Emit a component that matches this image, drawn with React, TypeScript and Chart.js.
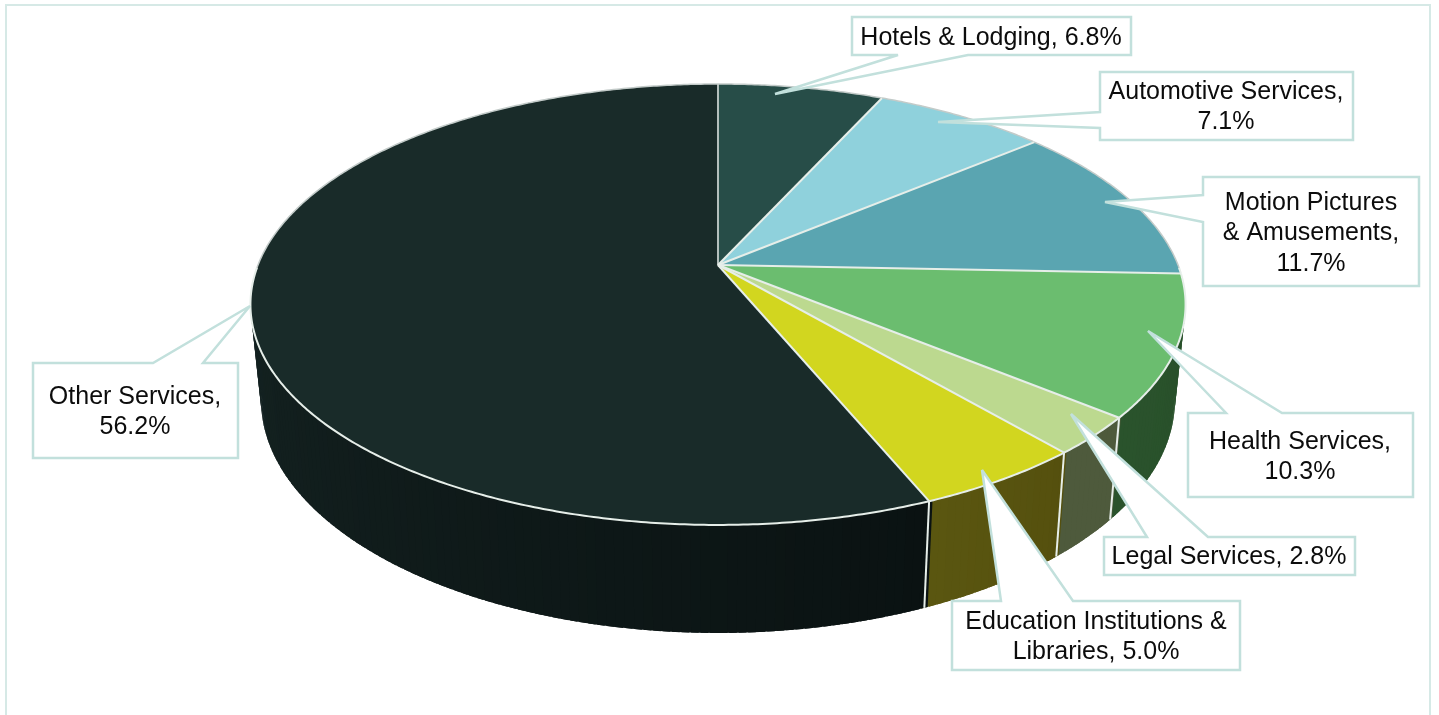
import React, { useEffect, useRef } from "react";
import { Chart, registerables } from "chart.js";

Chart.register(...registerables);

const categories = ["Hotels & Lodging", "Automotive Services", "Motion Pictures & Amusements", "Health Services", "Legal Services", "Education Institutions & Libraries", "Other Services"];
const shares = [6.8, 7.1, 11.7, 10.3, 2.8, 5.0, 56.2];
const calloutText = [
  ["Hotels & Lodging, 6.8%"],
  ["Automotive Services,", "7.1%"],
  ["Motion Pictures", "& Amusements,", "11.7%"],
  ["Health Services,", "10.3%"],
  ["Legal Services, 2.8%"],
  ["Education Institutions &", "Libraries, 5.0%"],
  ["Other Services,", "56.2%"],
];
const topColors = ["#274d48", "#8fd1dc", "#5aa5b1", "#6bbd6f", "#bcd98f", "#d2d61f", "#192b29"];
const wallFrom = ["#274d48", "#8fd1dc", "#5aa5b1", "#284f2a", "#4e5a3c", "#55500e", "#0a1212"];
const wallTo = ["#274d48", "#8fd1dc", "#5aa5b1", "#2a532c", "#4e5a3c", "#5a5610", "#1e3230"];

const LINE = "#c2e0dc";
const RIM = "#e6eee9";

// Callout outlines: box with a wedge reaching to the tip, [x,y] vertices clockwise
const calloutShapes = [
  [[852, 17], [1131, 17], [1131, 55], [968, 55], [775, 94], [898, 55], [852, 55]],
  [[1100, 72], [1353, 72], [1353, 140], [1100, 140], [1100, 128], [938, 122], [1100, 112]],
  [[1203, 177], [1419, 177], [1419, 286], [1203, 286], [1203, 222], [1105, 202], [1203, 195]],
  [[1188, 413], [1226, 413], [1148, 331], [1282, 413], [1413, 413], [1413, 497], [1188, 497]],
  [[1104, 537], [1147, 537], [1071, 414], [1208, 537], [1355, 537], [1355, 575], [1104, 575]],
  [[952, 601], [1001, 601], [982, 470], [1073, 601], [1240, 601], [1240, 670], [952, 670]],
  [[33, 363], [153, 363], [250, 306], [203, 363], [238, 363], [238, 458], [33, 458]],
];
const calloutAnchors = [[991, 38], [1226, 92], [1311, 203], [1300, 442], [1229, 557], [1096, 622], [135, 397]];
const lineHeight = 30.5;

// Perspective of the disc: top plane and lower plane
const TOP = { cx: 718, y0: 265, A: 460, B: 213.4, p: 0.179 };
const BOT = { cx: 718, y0: 358.3, A: 449.6, B: 225.5, p: 0.179 };

type Plane = typeof TOP;
const project = (pl: Plane, theta: number) => {
  const X = Math.sin(theta);
  const Y = -Math.cos(theta);
  const d = 1 - pl.p * Y;
  return [pl.cx + (pl.A * X) / d, pl.y0 + (pl.B * Y) / d];
};

const hex = (c: string) => [1, 3, 5].map((i) => parseInt(c.slice(i, i + 2), 16));
const mix = (a: string, b: string, t: number) => {
  const A = hex(a), B = hex(b);
  return `rgb(${A.map((v, i) => Math.round(v + (B[i] - v) * t)).join(",")})`;
};

const STEP = Math.PI / 180;

const pie3d = {
  id: "pie3d",
  beforeDatasetsDraw(chart: any) {
    const ctx: CanvasRenderingContext2D = chart.ctx;
    const arcs = chart.getDatasetMeta(0).data;
    const slices = arcs.map((a: any, i: number) => ({
      t0: a.startAngle + Math.PI / 2,
      t1: a.endAngle + Math.PI / 2,
      fill: a.options.backgroundColor,
      i,
    }));

    ctx.save();
    // chart frame
    ctx.strokeStyle = "#d6e9e6";
    ctx.lineWidth = 2;
    ctx.strokeRect(6, 5, 1424, 730);

    // side walls
    const strips: any[] = [];
    const pad = STEP * 0.4;
    for (const s of slices) {
      const n = Math.max(1, Math.ceil((s.t1 - s.t0) / STEP));
      for (let k = 0; k < n; k++) {
        const a = s.t0 + ((s.t1 - s.t0) * k) / n;
        const b = s.t0 + ((s.t1 - s.t0) * (k + 1)) / n;
        const mid = (a + b) / 2;
        if (-Math.cos(mid) < 0.05) continue;
        strips.push({ a: a - pad, b: b + pad, depth: -Math.cos(mid), color: mix(wallFrom[s.i], wallTo[s.i], (k + 0.5) / n) });
      }
    }
    strips.sort((p, q) => p.depth - q.depth);
    for (const st of strips) {
      const p = [project(TOP, st.a), project(TOP, st.b), project(BOT, st.b), project(BOT, st.a)];
      ctx.beginPath();
      p.forEach((q, i) => (i ? ctx.lineTo(q[0], q[1]) : ctx.moveTo(q[0], q[1])));
      ctx.closePath();
      ctx.fillStyle = st.color;
      ctx.fill();
    }
    // wall separators (only the ones facing the viewer)
    ctx.strokeStyle = RIM;
    ctx.lineWidth = 2;
    for (const s of slices) {
      if (-Math.cos(s.t0) < 0.2) continue;
      const u = project(TOP, s.t0);
      const v = project(BOT, s.t0);
      ctx.beginPath();
      ctx.moveTo(u[0], u[1]);
      ctx.lineTo(v[0], v[1]);
      ctx.stroke();
    }

    // top faces
    for (const s of slices) {
      ctx.beginPath();
      ctx.moveTo(TOP.cx, TOP.y0);
      const n = Math.max(2, Math.ceil((s.t1 - s.t0) / (STEP / 2)));
      for (let k = 0; k <= n; k++) {
        const q = project(TOP, s.t0 + ((s.t1 - s.t0) * k) / n);
        ctx.lineTo(q[0], q[1]);
      }
      ctx.closePath();
      ctx.fillStyle = s.fill;
      ctx.fill();
    }
    // spokes and rim
    ctx.lineJoin = "round";
    for (const s of slices) {
      const e = project(TOP, s.t0);
      ctx.beginPath();
      ctx.moveTo(e[0], e[1]);
      ctx.lineTo(TOP.cx, TOP.y0);
      ctx.lineWidth = 2;
      ctx.strokeStyle = Math.abs(s.t0) < 0.01 ? "#b4bfbc" : RIM;
      ctx.stroke();

      const n = Math.max(2, Math.ceil((s.t1 - s.t0) / (STEP / 2)));
      for (const front of [false, true]) {
        ctx.beginPath();
        let open = false;
        for (let k = 0; k <= n; k++) {
          const th = s.t0 + ((s.t1 - s.t0) * k) / n;
          const Y = -Math.cos(th);
          if (front ? Y < 0.01 : Y > 0.03) continue;
          const q = project(TOP, th);
          if (open) ctx.lineTo(q[0], q[1]);
          else ctx.moveTo(q[0], q[1]);
          open = true;
        }
        ctx.lineWidth = front ? 2 : 1.5;
        ctx.strokeStyle = front ? RIM : "#c3cbc9";
        ctx.stroke();
      }
    }

    // callouts
    ctx.lineWidth = 2.5;
    ctx.lineJoin = "miter";
    ctx.miterLimit = 3;
    calloutShapes.forEach((shape) => {
      ctx.beginPath();
      shape.forEach((q, i) => (i ? ctx.lineTo(q[0], q[1]) : ctx.moveTo(q[0], q[1])));
      ctx.closePath();
      ctx.fillStyle = "#ffffff";
      ctx.strokeStyle = LINE;
      ctx.fill();
      ctx.stroke();
    });
    ctx.fillStyle = "#0c0c0c";
    ctx.font = '25px "Liberation Sans"';
    ctx.textAlign = "center";
    ctx.textBaseline = "middle";
    calloutText.forEach((lines, i) => {
      lines.forEach((t, j) => ctx.fillText(t, calloutAnchors[i][0], calloutAnchors[i][1] + j * lineHeight));
    });
    ctx.restore();
    return false;
  },
};

export default function App() {
  const ref = useRef<HTMLCanvasElement>(null);
  useEffect(() => {
    const chart = new Chart(ref.current!, {
      type: "pie",
      data: {
        labels: categories,
        datasets: [{ data: shares, backgroundColor: topColors, borderWidth: 0 }],
      },
      options: {
        animation: false,
        responsive: false,
        devicePixelRatio: 1,
        plugins: { legend: { display: false }, tooltip: { enabled: false } },
      },
      plugins: [pie3d],
    } as any);
    return () => chart.destroy();
  }, []);
  return (
    <canvas
      ref={ref}
      width={1439}
      height={715}
      style={{ position: "fixed", left: 0, top: 0, width: 1439, height: 715, background: "#fff" }}
    />
  );
}
